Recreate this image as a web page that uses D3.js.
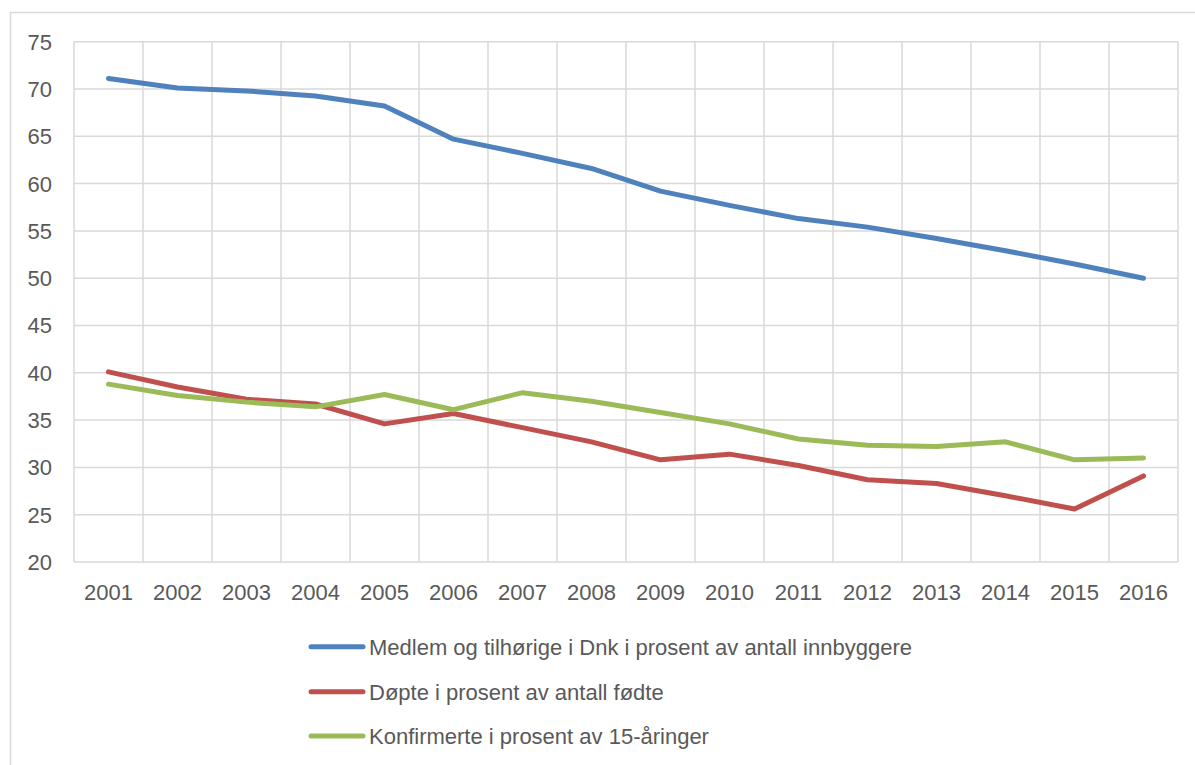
<!DOCTYPE html>
<html><head><meta charset="utf-8">
<script src="https://cdn.jsdelivr.net/npm/d3@7"></script>
<style>body{margin:0;background:#fff}svg{display:block}</style>
</head><body>
<script>
const years = ["2001","2002","2003","2004","2005","2006","2007","2008","2009","2010","2011","2012","2013","2014","2015","2016"];
const medlem = [71.1,70.1,69.8,69.25,68.2,64.7,63.2,61.6,59.2,57.7,56.3,55.4,54.2,52.9,51.5,50.0];
const dopte = [40.1,38.5,37.2,36.7,34.6,35.7,34.2,32.7,30.8,31.4,30.2,28.7,28.3,27.0,25.6,29.1];
const konf = [38.8,37.6,36.9,36.4,37.7,36.1,37.9,37.0,35.8,34.6,33.0,32.35,32.2,32.7,30.8,31.0];
const seriesNames = ["Medlem og tilhørige i Dnk i prosent av antall innbyggere","Døpte i prosent av antall fødte","Konfirmerte i prosent av 15-åringer"];
const colors = ["#4F81BD","#C0504D","#9BBB59"];
const yTicks = [20,25,30,35,40,45,50,55,60,65,70,75];

const W=1195,H=765;
const svg=d3.select("body").append("svg").attr("width",W).attr("height",H);
const font="'Liberation Sans Narrow', 'Liberation Sans', sans-serif";
svg.append("rect").attr("x",10.5).attr("y",12.5).attr("width",1200).attr("height",800)
  .attr("fill","none").attr("stroke","#D9D9D9").attr("stroke-width",1.5);

const L=74,R=1178,T=41.7,B=562;
const x=d3.scaleBand().domain(years).range([L,R]);
const y=d3.scaleLinear().domain([20,75]).range([B,T]);
const g=svg.append("g");
g.selectAll(".hg").data(yTicks).join("line").attr("x1",L).attr("x2",R)
  .attr("y1",d=>y(d)).attr("y2",d=>y(d)).attr("stroke","#D9D9D9").attr("stroke-width",1.5);
const bounds=years.map(d=>x(d)).concat([R]);
g.selectAll(".vg").data(bounds).join("line").attr("x1",d=>d).attr("x2",d=>d)
  .attr("y1",T).attr("y2",B).attr("stroke","#D9D9D9").attr("stroke-width",1.5);

g.selectAll(".yl").data(yTicks).join("text").attr("x",52).attr("y",d=>y(d)).attr("dy","0.36em")
  .attr("text-anchor","end").attr("font-family",font).attr("font-size",22).attr("fill","#595959").text(d=>d);
g.selectAll(".xl").data(years).join("text").attr("x",d=>x(d)+x.bandwidth()/2).attr("y",600)
  .attr("text-anchor","middle").attr("font-family",font).attr("font-size",22).attr("fill","#595959").text(d=>d);

const line=d3.line().x((d,i)=>x(years[i])+x.bandwidth()/2).y(d=>y(d));
[medlem,dopte,konf].forEach((s,i)=>{
  svg.append("path").attr("d",line(s)).attr("fill","none").attr("stroke",colors[i])
    .attr("stroke-width",5).attr("stroke-linejoin","round").attr("stroke-linecap","round");
});

const ly=[646.7,691.7,736];
seriesNames.forEach((n,i)=>{
  svg.append("line").attr("x1",311).attr("x2",363).attr("y1",ly[i]).attr("y2",ly[i])
    .attr("stroke",colors[i]).attr("stroke-width",5).attr("stroke-linecap","round");
  svg.append("text").attr("x",369).attr("y",ly[i]).attr("dy","0.36em").attr("font-family",font)
    .attr("font-size",22).attr("fill","#595959").text(n);
});
</script>
</body></html>
